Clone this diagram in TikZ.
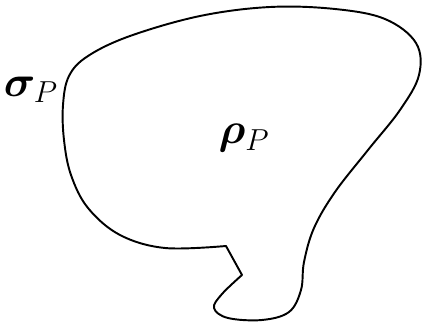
\documentclass[tikz,border=0pt]{standalone}
\usepackage{amsmath}
\usepackage{bm}
\begin{document}
\begin{tikzpicture}[x=0.02cm,y=-0.02cm,
    outline/.style={draw,line width=1.1pt,line join=round},
    lbl/.style={font=\fontsize{25}{28}\selectfont,inner sep=0pt}]
    \useasboundingbox (0,0) rectangle (424,325);
    % boundary of the body
    \draw[outline] plot[smooth,tension=0.6] coordinates {(242,275) (222,294)
        (214,308) (228,318) (262,320) (289,312) (301,290) (304,262) (314,228)
        (335,192) (368,150) (400,110) (419,75) (416,43) (385,19) (335,9)
        (270,7) (200,16) (130,36) (88,56) (69,76) (63,105) (64,140) (71,175)
        (88,208) (120,235) (165,248) (226,246)} -- cycle;
    \node[lbl](sig)at(31,90){$\bm{\sigma}_P$};
    \node[lbl](rho)at(244,138){$\bm{\rho}_P$};
\end{tikzpicture}
\end{document}
